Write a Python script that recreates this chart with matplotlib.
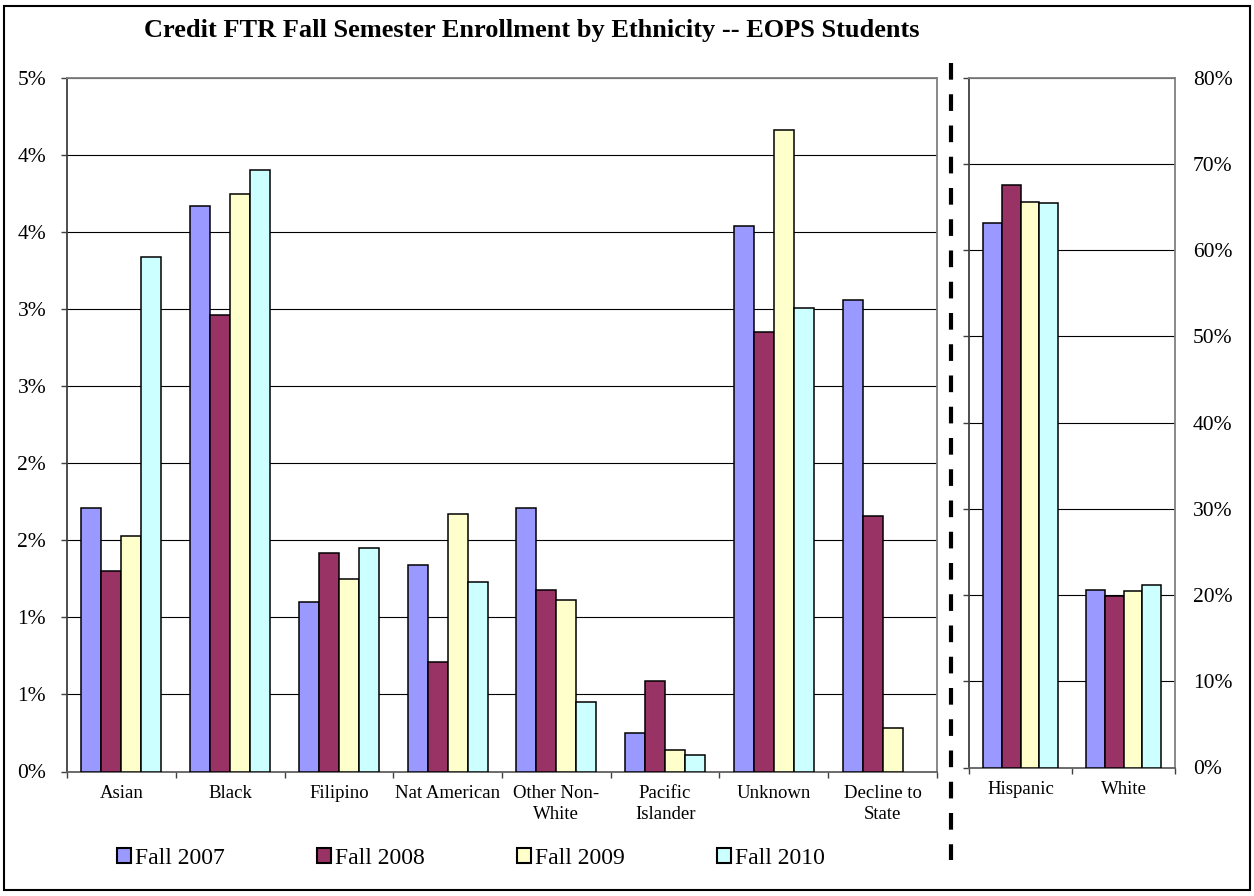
import numpy as np
import matplotlib
matplotlib.use("Agg")
import matplotlib.pyplot as plt
from matplotlib.patches import Rectangle, Patch
from matplotlib.lines import Line2D

plt.rcParams['font.family'] = ['Liberation Serif', 'DejaVu Serif']

# Data (percent of EOPS students)
series = ["Fall 2007", "Fall 2008", "Fall 2009", "Fall 2010"]
colors = ["#9999FF", "#993366", "#FFFFCC", "#CCFFFF"]

small_groups = ["Asian", "Black", "Filipino", "Nat American", "Other Non-\nWhite",
                "Pacific\nIslander", "Unknown", "Decline to\nState"]
small_2007 = [1.71, 3.67, 1.10, 1.34, 1.71, 0.25, 3.54, 3.06]
small_2008 = [1.30, 2.96, 1.42, 0.71, 1.18, 0.59, 2.85, 1.66]
small_2009 = [1.53, 3.75, 1.25, 1.67, 1.11, 0.14, 4.16, 0.28]
small_2010 = [3.34, 3.90, 1.45, 1.23, 0.45, 0.11, 3.01, 0.00]
small_ticks = [0, 0.5, 1.0, 1.5, 2.0, 2.5, 3.0, 3.5, 4.0, 4.5]
small_ticklabels = ["0%", "1%", "1%", "2%", "2%", "3%", "3%", "4%", "4%", "5%"]

big_groups = ["Hispanic", "White"]
big_2007 = [63.2, 20.6]
big_2008 = [67.6, 19.9]
big_2009 = [65.6, 20.5]
big_2010 = [65.5, 21.2]
big_ticks = [0, 10, 20, 30, 40, 50, 60, 70, 80]
big_ticklabels = ["0%", "10%", "20%", "30%", "40%", "50%", "60%", "70%", "80%"]

small_vals = [small_2007, small_2008, small_2009, small_2010]
big_vals = [big_2007, big_2008, big_2009, big_2010]

fig = plt.figure(figsize=(12.54, 8.96), dpi=100)

# outer border
fig.patches.append(Rectangle((4 / 1254, 1 - 890 / 896), 1246 / 1254, 884 / 896,
                             transform=fig.transFigure, fill=False,
                             edgecolor='black', linewidth=1.5))

ax1 = fig.add_axes([67 / 1254, 1 - 771.5 / 896, 870 / 1254, 693.5 / 896])
ax2 = fig.add_axes([969 / 1254, 1 - 767.5 / 896, 206 / 1254, 689.8 / 896])

w = 0.184


def draw_bars(ax, groups, vals):
    x = np.arange(len(groups))
    for i, v in enumerate(vals):
        v = np.asarray(v, dtype=float)
        keep = v > 0  # no empty bar outline for zero values
        ax.bar(x[keep] + (i - 1.5) * w, v[keep], w, color=colors[i], edgecolor='black',
               linewidth=1.1, zorder=3)
    ax.set_xlim(-0.5, len(groups) - 0.5)
    ax.set_xticks(x)
    ax.set_xticklabels(groups, fontsize=13.5, linespacing=1.25)
    ax.set_xticks(np.arange(len(groups) + 1) - 0.5, minor=True)
    ax.tick_params(axis='x', which='major', length=0, pad=10)
    ax.tick_params(axis='x', which='minor', length=4, width=1, color='#404040',
                   direction='out')
    ax.yaxis.grid(True, color='black', linewidth=0.8, zorder=0)
    ax.set_axisbelow(True)
    for s in ['top', 'right', 'bottom']:
        ax.spines[s].set_color('#808080')
        ax.spines[s].set_linewidth(1.3)
    ax.spines['left'].set_color('#404040')
    ax.spines['left'].set_linewidth(1.3)
    ax.spines['bottom'].set_color('#606060')


draw_bars(ax1, small_groups, small_vals)
ax1.set_ylim(0, 4.5)
ax1.set_yticks(small_ticks)
ax1.set_yticklabels(small_ticklabels, fontsize=15.5)
ax1.tick_params(axis='y', length=4, width=1, color='#404040', pad=11)

draw_bars(ax2, big_groups, big_vals)
ax2.set_ylim(0, 80)
ax2.set_yticks(big_ticks)
ax2.set_yticklabels(big_ticklabels, fontsize=15.5)
ax2.tick_params(axis='y', left=True, right=False, labelleft=False,
                labelright=True, length=4, width=1, color='#404040', pad=9)

fig.text(532 / 1254, 1 - 31 / 896,
         "Credit FTR Fall Semester Enrollment by Ethnicity -- EOPS Students",
         ha='center', va='center', fontsize=19, fontweight='bold')

# dashed separator
fig.lines.append(Line2D([950.7 / 1254, 950.7 / 1254], [1 - 63 / 896, 1 - 860 / 896],
                        transform=fig.transFigure, color='black', linewidth=3,
                        dashes=(4, 3.5)))

handles = [Patch(facecolor=c, edgecolor='black', linewidth=1.5) for c in colors]
fig.legend(handles, series, loc='center left', bbox_to_anchor=(117 / 1254, 1 - 858 / 896),
           ncol=4, frameon=False, fontsize=17, handlelength=0.6, handleheight=0.6,
           handletextpad=0.17, columnspacing=3.9, borderpad=0, borderaxespad=0)

plt.savefig('out.png', dpi=100)
